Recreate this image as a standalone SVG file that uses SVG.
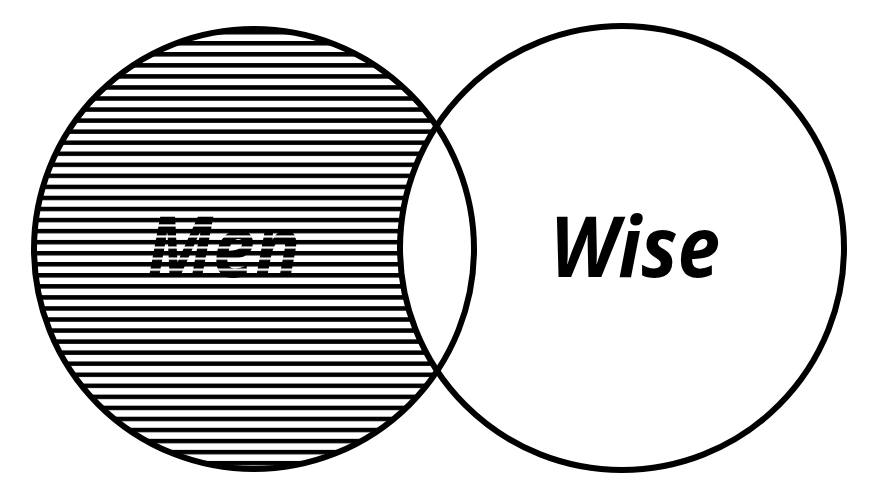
<svg xmlns="http://www.w3.org/2000/svg" width="877" height="495" viewBox="0 0 877 495">
  <style>
    .ring { fill: none; stroke: #000; stroke-width: 6; }
    .label { font-family: "Noto Sans", "Open Sans", "Liberation Sans", sans-serif; font-style: italic; font-weight: bold; font-size: 84px; }
  </style>
  <defs>
    <pattern id="hatch" patternUnits="userSpaceOnUse" x="0" y="41" width="877" height="11.05">
      <rect x="0" y="0" width="877" height="11.05" fill="#fff"/>
      <rect x="0" y="0" width="877" height="4.5" fill="#000"/>
    </pattern>
    <pattern id="textFill" patternUnits="userSpaceOnUse" x="0" y="41" width="877" height="11.05">
      <rect x="0" y="0" width="877" height="11.05" fill="#000"/>
      <rect x="0" y="6.6" width="877" height="2.2" fill="#fff"/>
    </pattern>
    <mask id="onlyMen">
      <rect x="0" y="0" width="877" height="495" fill="#000"/>
      <circle cx="254" cy="249" r="220" fill="#fff"/>
      <circle cx="622" cy="248" r="222" fill="#000"/>
    </mask>
  </defs>
  <rect x="0" y="0" width="877" height="495" fill="#fff"/>
  <g id="men">
    <rect x="0" y="0" width="877" height="495" fill="url(#hatch)" mask="url(#onlyMen)"/>
    <circle class="ring" cx="254" cy="249" r="220"/>
    <text class="label" x="147" y="277" textLength="153" lengthAdjust="spacingAndGlyphs" fill="url(#textFill)">Men</text>
  </g>
  <g id="wise">
    <circle class="ring" cx="622" cy="248" r="222"/>
    <text class="label" x="550" y="277" textLength="170" lengthAdjust="spacingAndGlyphs" fill="#000">Wise</text>
  </g>
  <g id="connectors"></g>
</svg>
